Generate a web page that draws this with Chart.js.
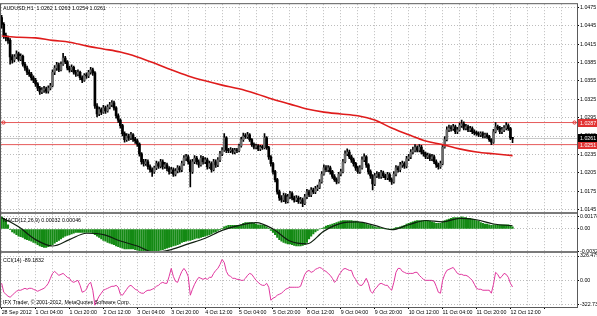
<!DOCTYPE html>
<html>
<head>
<meta charset="utf-8">
<script src="https://cdn.jsdelivr.net/npm/chart.js@4.4.1/dist/chart.umd.min.js"></script>
<style>
  html, body { margin: 0; padding: 0; background: #fff; }
  #wrap { width: 597px; height: 316px; }
</style>
</head>
<body>
<div id="wrap"><canvas id="chart" width="597" height="316"></canvas></div>
<script>
// AUDUSD H1 candles, 28 Sep 2012 12:00 -> 12 Oct 2012 13:00
const symbol = 'AUDUSD,H1';
const firstOpen = 1.0458;
const closes = [
  1.0447,1.0429,1.0425,1.0421,1.0394,1.0389,1.0394,1.0399,1.0390,1.0395,
  1.0382,1.0376,1.0369,1.0366,1.0360,1.0356,1.0350,1.0343,1.0337,1.0340,
  1.0342,1.0338,1.0343,1.0347,1.0369,1.0376,1.0381,1.0373,1.0382,1.0392,
  1.0386,1.0376,1.0373,1.0377,1.0369,1.0366,1.0369,1.0360,1.0356,1.0364,
  1.0363,1.0369,1.0373,1.0368,1.0314,1.0301,1.0308,1.0304,1.0311,1.0306,
  1.0312,1.0316,1.0319,1.0311,1.0298,1.0291,1.0282,1.0269,1.0259,1.0265,
  1.0262,1.0267,1.0260,1.0257,1.0252,1.0236,1.0223,1.0220,1.0223,1.0215,
  1.0210,1.0207,1.0213,1.0220,1.0216,1.0223,1.0215,1.0218,1.0212,1.0207,
  1.0210,1.0203,1.0208,1.0213,1.0210,1.0220,1.0229,1.0231,1.0223,1.0207,
  1.0223,1.0229,1.0223,1.0218,1.0229,1.0223,1.0226,1.0215,1.0220,1.0210,
  1.0223,1.0218,1.0226,1.0236,1.0242,1.0262,1.0242,1.0241,1.0242,1.0239,
  1.0242,1.0241,1.0249,1.0259,1.0265,1.0264,1.0267,1.0259,1.0251,1.0247,
  1.0249,1.0244,1.0247,1.0246,1.0262,1.0246,1.0231,1.0220,1.0207,1.0194,
  1.0174,1.0164,1.0161,1.0168,1.0158,1.0166,1.0171,1.0164,1.0161,1.0164,
  1.0158,1.0161,1.0155,1.0166,1.0174,1.0169,1.0177,1.0174,1.0179,1.0181,
  1.0190,1.0203,1.0213,1.0210,1.0213,1.0207,1.0199,1.0194,1.0190,1.0203,
  1.0207,1.0223,1.0236,1.0239,1.0231,1.0226,1.0220,1.0213,1.0207,1.0213,
  1.0226,1.0231,1.0218,1.0207,1.0200,1.0187,1.0200,1.0203,1.0199,1.0205,
  1.0200,1.0197,1.0202,1.0194,1.0190,1.0203,1.0213,1.0210,1.0218,1.0220,
  1.0216,1.0228,1.0231,1.0239,1.0242,1.0246,1.0242,1.0247,1.0239,1.0236,
  1.0231,1.0233,1.0228,1.0231,1.0223,1.0218,1.0215,1.0220,1.0247,1.0259,
  1.0275,1.0278,1.0277,1.0280,1.0272,1.0275,1.0282,1.0285,1.0278,1.0280,
  1.0275,1.0277,1.0272,1.0270,1.0269,1.0267,1.0269,1.0265,1.0267,1.0264,
  1.0259,1.0255,1.0272,1.0280,1.0278,1.0272,1.0275,1.0278,1.0282,1.0277,
  1.0262,1.0261
];
const highs = [
  1.0462,1.0450,1.0433,1.0428,1.0424,1.0398,1.0398,1.0404,1.0402,1.0399,
  1.0397,1.0385,1.0379,1.0373,1.0369,1.0363,1.0359,1.0352,1.0346,1.0344,
  1.0346,1.0345,1.0347,1.0351,1.0373,1.0380,1.0385,1.0384,1.0386,1.0400,
  1.0395,1.0388,1.0379,1.0381,1.0379,1.0372,1.0373,1.0371,1.0363,1.0367,
  1.0368,1.0372,1.0377,1.0376,1.0370,1.0318,1.0312,1.0311,1.0315,1.0314,
  1.0316,1.0320,1.0323,1.0322,1.0313,1.0301,1.0293,1.0284,1.0272,1.0269,
  1.0268,1.0271,1.0269,1.0263,1.0260,1.0254,1.0238,1.0227,1.0227,1.0226,
  1.0218,1.0213,1.0216,1.0224,1.0223,1.0227,1.0226,1.0222,1.0221,1.0215,
  1.0214,1.0213,1.0212,1.0217,1.0216,1.0224,1.0233,1.0235,1.0234,1.0226,
  1.0227,1.0233,1.0232,1.0226,1.0233,1.0232,1.0230,1.0229,1.0224,1.0223,
  1.0227,1.0226,1.0230,1.0240,1.0246,1.0269,1.0264,1.0245,1.0246,1.0245,
  1.0245,1.0245,1.0252,1.0263,1.0270,1.0269,1.0271,1.0269,1.0261,1.0254,
  1.0252,1.0251,1.0250,1.0250,1.0269,1.0264,1.0248,1.0233,1.0222,1.0209,
  1.0196,1.0177,1.0168,1.0172,1.0171,1.0170,1.0175,1.0174,1.0167,1.0168,
  1.0167,1.0165,1.0164,1.0170,1.0178,1.0177,1.0181,1.0180,1.0183,1.0185,
  1.0194,1.0207,1.0218,1.0217,1.0217,1.0216,1.0209,1.0202,1.0197,1.0206,
  1.0211,1.0227,1.0241,1.0244,1.0242,1.0234,1.0229,1.0222,1.0216,1.0217,
  1.0231,1.0236,1.0233,1.0220,1.0210,1.0202,1.0204,1.0207,1.0206,1.0209,
  1.0208,1.0203,1.0206,1.0205,1.0197,1.0207,1.0217,1.0216,1.0222,1.0224,
  1.0223,1.0232,1.0235,1.0243,1.0247,1.0251,1.0249,1.0251,1.0250,1.0242,
  1.0239,1.0237,1.0236,1.0235,1.0234,1.0226,1.0221,1.0224,1.0251,1.0264,
  1.0280,1.0283,1.0282,1.0284,1.0283,1.0279,1.0286,1.0291,1.0288,1.0284,
  1.0283,1.0281,1.0280,1.0275,1.0273,1.0272,1.0272,1.0272,1.0270,1.0270,
  1.0266,1.0261,1.0276,1.0287,1.0283,1.0281,1.0279,1.0282,1.0287,1.0285,
  1.0279,1.0263
];
const lows = [
  1.0441,1.0424,1.0420,1.0416,1.0382,1.0384,1.0386,1.0391,1.0387,1.0388,
  1.0379,1.0372,1.0365,1.0362,1.0356,1.0352,1.0346,1.0339,1.0333,1.0334,
  1.0336,1.0335,1.0335,1.0340,1.0345,1.0365,1.0372,1.0370,1.0371,1.0380,
  1.0383,1.0373,1.0369,1.0370,1.0366,1.0362,1.0363,1.0357,1.0352,1.0354,
  1.0359,1.0360,1.0366,1.0364,1.0310,1.0296,1.0298,1.0300,1.0302,1.0302,
  1.0304,1.0309,1.0313,1.0307,1.0294,1.0287,1.0278,1.0265,1.0255,1.0256,
  1.0258,1.0259,1.0256,1.0253,1.0248,1.0232,1.0219,1.0216,1.0217,1.0211,
  1.0206,1.0199,1.0204,1.0210,1.0212,1.0213,1.0211,1.0212,1.0208,1.0203,
  1.0204,1.0199,1.0200,1.0205,1.0206,1.0207,1.0217,1.0225,1.0219,1.0182,
  1.0204,1.0220,1.0219,1.0214,1.0216,1.0219,1.0220,1.0211,1.0212,1.0206,
  1.0208,1.0214,1.0215,1.0223,1.0233,1.0240,1.0238,1.0238,1.0238,1.0236,
  1.0236,1.0238,1.0239,1.0247,1.0256,1.0261,1.0261,1.0256,1.0248,1.0244,
  1.0244,1.0241,1.0241,1.0243,1.0244,1.0243,1.0227,1.0216,1.0203,1.0190,
  1.0170,1.0160,1.0157,1.0158,1.0155,1.0156,1.0163,1.0161,1.0157,1.0158,
  1.0155,1.0155,1.0150,1.0153,1.0163,1.0166,1.0166,1.0171,1.0171,1.0176,
  1.0179,1.0188,1.0201,1.0207,1.0207,1.0203,1.0196,1.0191,1.0187,1.0188,
  1.0200,1.0205,1.0221,1.0233,1.0228,1.0222,1.0216,1.0209,1.0204,1.0204,
  1.0211,1.0223,1.0214,1.0203,1.0196,1.0177,1.0184,1.0197,1.0196,1.0196,
  1.0197,1.0194,1.0194,1.0191,1.0186,1.0188,1.0200,1.0206,1.0207,1.0214,
  1.0212,1.0213,1.0225,1.0228,1.0236,1.0239,1.0239,1.0239,1.0236,1.0232,
  1.0228,1.0228,1.0225,1.0225,1.0220,1.0214,1.0211,1.0212,1.0218,1.0245,
  1.0257,1.0272,1.0273,1.0274,1.0269,1.0269,1.0273,1.0279,1.0275,1.0275,
  1.0272,1.0272,1.0269,1.0267,1.0266,1.0264,1.0264,1.0262,1.0262,1.0261,
  1.0256,1.0251,1.0253,1.0270,1.0275,1.0269,1.0269,1.0272,1.0275,1.0274,
  1.0259,1.0254
];

// moving average, read every 8 bars
const maBars = [0,8,16,24,32,40,48,56,64,72,80,88,96,104,112,120,128,136,144,152,160,168,176,184,192,200,208,216,224,232,241];
const maValues = [1.0428,1.0426,1.0425,1.0421,1.0418,1.0412,1.0407,1.0402,1.0394,1.0384,1.0373,1.0363,1.0355,1.0348,1.0342,1.0334,1.0325,1.0317,1.0309,1.0304,1.0301,1.0298,1.0291,1.0278,1.0267,1.0257,1.0251,1.0244,1.0239,1.0236,1.0233];

const levelLines = [1.0287, 1.0251];

const macdHist = [
  0.0017,0.0015,0.0012,0.0006,-0.0001,-0.0004,-0.0006,-0.0008,-0.0010,-0.0011,
  -0.0012,-0.0014,-0.0015,-0.0016,-0.0017,-0.0019,-0.0020,-0.0022,-0.0024,-0.0025,
  -0.0026,-0.0026,-0.0025,-0.0024,-0.0022,-0.0020,-0.0018,-0.0016,-0.0014,-0.0012,
  -0.0010,-0.0009,-0.0008,-0.0007,-0.0006,-0.0005,-0.0005,-0.0005,-0.0005,-0.0005,
  -0.0005,-0.0005,-0.0005,-0.0006,-0.0008,-0.0010,-0.0012,-0.0014,-0.0016,-0.0017,
  -0.0019,-0.0020,-0.0021,-0.0022,-0.0024,-0.0025,-0.0026,-0.0027,-0.0028,-0.0028,
  -0.0028,-0.0028,-0.0028,-0.0029,-0.0030,-0.0031,-0.0032,-0.0033,-0.0033,-0.0033,
  -0.0033,-0.0033,-0.0033,-0.0032,-0.0031,-0.0030,-0.0029,-0.0028,-0.0027,-0.0026,
  -0.0025,-0.0024,-0.0023,-0.0022,-0.0021,-0.0019,-0.0018,-0.0017,-0.0016,-0.0016,
  -0.0015,-0.0014,-0.0013,-0.0013,-0.0012,-0.0011,-0.0010,-0.0009,-0.0008,-0.0007,
  -0.0005,-0.0004,-0.0002,-0.0001,0.0001,0.0003,0.0004,0.0005,0.0005,0.0005,
  0.0005,0.0005,0.0005,0.0006,0.0008,0.0009,0.0009,0.0009,0.0009,0.0008,
  0.0007,0.0006,0.0006,0.0005,0.0005,0.0003,0.0001,-0.0002,-0.0005,-0.0008,
  -0.0012,-0.0015,-0.0017,-0.0019,-0.0020,-0.0021,-0.0021,-0.0022,-0.0023,-0.0024,
  -0.0024,-0.0024,-0.0023,-0.0022,-0.0019,-0.0014,-0.0010,-0.0007,-0.0004,-0.0002,
  0.0000,0.0001,0.0002,0.0004,0.0005,0.0006,0.0007,0.0008,0.0009,0.0010,
  0.0011,0.0012,0.0012,0.0012,0.0012,0.0012,0.0011,0.0011,0.0010,0.0009,
  0.0009,0.0008,0.0007,0.0006,0.0005,0.0004,0.0003,0.0002,0.0002,0.0001,
  0.0001,0.0000,0.0000,0.0000,0.0000,0.0001,0.0002,0.0002,0.0003,0.0004,
  0.0005,0.0007,0.0008,0.0009,0.0010,0.0011,0.0012,0.0012,0.0012,0.0012,
  0.0012,0.0012,0.0011,0.0010,0.0009,0.0008,0.0008,0.0008,0.0010,0.0012,
  0.0013,0.0014,0.0015,0.0016,0.0016,0.0016,0.0016,0.0017,0.0016,0.0016,
  0.0015,0.0015,0.0014,0.0013,0.0012,0.0011,0.0009,0.0008,0.0007,0.0007,
  0.0006,0.0005,0.0006,0.0006,0.0006,0.0006,0.0006,0.0006,0.0006,0.0006,
  0.0005,0.00032
];
const signalBars = maBars;
const signalValues = [0.0016,0.0003,-0.0015,-0.0024,-0.0015,-0.0006,-0.0008,-0.0017,-0.0024,-0.0033,-0.0029,-0.0021,-0.0013,-0.0002,0.0005,0.0009,0.0000,-0.0017,-0.0021,-0.0003,0.0008,0.0010,0.0005,-0.0001,0.0006,0.0012,0.0010,0.0015,0.0013,0.0007,0.00046];

const cciValues = [
  -40,-160,-187,-213,-227,-200,-173,-147,-133,-133,
  -120,-107,-120,-107,-107,-120,-133,-147,-133,-120,
  -107,-80,-40,27,93,120,93,67,80,93,
  67,40,27,-13,-27,-13,0,-67,-160,-147,
  -120,-53,-27,-133,-333,-267,-213,-173,-133,-120,
  -107,-93,-80,-80,-67,-93,-187,-200,-160,-120,
  -80,-67,-93,-120,-133,-160,-173,-173,-147,-133,
  -133,-120,-107,-80,-67,-40,-27,-40,-40,53,
  160,53,-13,-27,53,120,160,120,53,-200,
  -120,-53,0,40,27,13,27,13,40,40,
  93,133,160,213,280,240,120,67,53,27,
  27,13,13,0,0,27,67,93,80,40,
  0,-27,-53,-67,-67,-40,-93,-267,-240,-227,
  -200,-187,-173,-147,-120,-107,-93,-93,-93,-93,
  -93,-80,0,80,120,133,107,120,147,160,
  173,160,133,120,93,67,27,-27,0,67,
  107,147,160,147,133,133,53,13,-40,-67,
  -67,-27,27,-40,-147,-173,-120,-93,-53,-40,
  -53,-67,-67,-107,-133,-27,107,160,160,120,
  107,93,93,93,93,107,107,67,40,13,
  0,0,0,0,-13,-80,-160,-173,0,80,
  133,147,160,173,133,93,80,80,67,67,
  53,27,0,-53,-107,-120,-120,-133,-133,-133,
  -133,-173,-53,107,80,27,53,93,80,40,
  -40,-89.1832
];

const priceTicks = [1.0475,1.0445,1.0415,1.0385,1.0355,1.0325,1.0295,1.0265,1.0235,1.0205,1.0175,1.0145];
const macdTicks = [0.00178, 0, -0.00322];
const cciTicks = [326.479, 100, 0, -100, -322.735];
const timeLabels = ['28 Sep 2012','1 Oct 04:00','1 Oct 20:00','2 Oct 12:00','3 Oct 04:00','3 Oct 20:00','4 Oct 12:00','5 Oct 04:00','5 Oct 20:00','8 Oct 12:00','9 Oct 04:00','9 Oct 20:00','10 Oct 12:00','11 Oct 04:00','11 Oct 20:00','12 Oct 12:00'];
const copyright = 'IFX Trader, \u00a9 2001-2012, MetaQuotes Software Corp.';

const xMin = -0.3, xMax = 271.4;
const FONT = '"Liberation Sans", Arial, sans-serif';
const FS = 5.3;
const gridColor = '#bcbcbc';

const opens = closes.map((c, i) => i === 0 ? firstOpen : closes[i - 1]);
const last = closes.length - 1;

Chart.defaults.font.family = FONT;
Chart.defaults.font.size = FS;
Chart.defaults.color = '#000';

const overlay = {
  id: 'overlay',
  afterDraw(chart) {
    const { ctx, chartArea: a, scales } = chart;
    ctx.save();

    // pane separators and frame
    ctx.fillStyle = '#7a7a7a';
    [scales.yMacd.top, scales.yCci.top].forEach(t => {
      ctx.fillRect(a.left - 1, Math.round(t) - 1, a.right - a.left + 1, 2);
    });
    ctx.strokeStyle = '#5a5a5a';
    ctx.lineWidth = 1;
    ctx.strokeRect(a.left - 0.5, a.top - 0.5, a.right - a.left + 1, a.bottom - a.top + 1);

    ctx.font = FS + 'px ' + FONT;
    ctx.textBaseline = 'middle';
    ctx.textAlign = 'left';

    // price boxes on the right axis
    const box = (v, color) => {
      const y = Math.round(scales.y.getPixelForValue(v));
      ctx.fillStyle = color;
      ctx.fillRect(a.right + 1, y - 4, 20, 8);
      ctx.fillStyle = '#fff';
      ctx.fillText(v.toFixed(4), a.right + 3, y + 0.5);
    };
    levelLines.forEach(v => box(v, '#e23232'));
    box(closes[last], '#000');

    // handles on the selected line
    const yl = scales.y.getPixelForValue(levelLines[0]);
    ctx.strokeStyle = '#e23232';
    ctx.beginPath(); ctx.arc(a.left + 2.5, yl, 1.6, 0, Math.PI * 2); ctx.stroke();
    ctx.beginPath(); ctx.arc(a.right - 2.5, yl, 1.6, 0, Math.PI * 2); ctx.stroke();

    // window titles
    ctx.fillStyle = '#000';
    const ohlc = [opens[last], highs[last], lows[last], closes[last]].map(v => v.toFixed(4)).join(' ');
    ctx.fillText(symbol + '  ' + ohlc, 3, a.top + 4);
    ctx.fillText('MACD(12,26,9) ' + macdHist[last].toFixed(5) + ' ' + signalValues[signalValues.length - 1].toFixed(5), 3, scales.yMacd.top + 7.5);
    ctx.fillText('CCI(14) ' + cciValues[last].toFixed(4), 3, scales.yCci.top + 8.5);
    ctx.fillText(copyright, 3, a.bottom - 4);
    ctx.restore();
  }
};

const yAxis = (extra) => Object.assign({
  type: 'linear',
  position: 'right',
  stack: 'panes',
  border: { display: false, dash: [1, 2] },
  grid: { color: gridColor, tickLength: 2, tickColor: '#000' },
  ticks: { padding: 1, font: { size: FS, family: FONT }, color: '#000' },
  afterFit: s => { s.width = 20; }
}, extra);

new Chart(document.getElementById('chart'), {
  type: 'bar',
  data: {
    datasets: [
      {
        type: 'line', label: 'MA', yAxisID: 'y', order: 0,
        data: maBars.map((b, k) => ({ x: b, y: maValues[k] })),
        borderColor: '#df1c1c', borderWidth: 1.6, pointRadius: 0,
        cubicInterpolationMode: 'monotone'
      },
      {
        label: 'body', yAxisID: 'y', order: 1, grouped: false,
        data: closes.map((c, i) => ({ x: i, y: [opens[i], c] })),
        backgroundColor: closes.map((c, i) => c >= opens[i] ? '#6a6a6a' : '#000'),
        barThickness: 2, minBarLength: 1
      },
      {
        label: 'wick', yAxisID: 'y', order: 2, grouped: false,
        data: closes.map((c, i) => ({ x: i, y: [lows[i], highs[i]] })),
        backgroundColor: '#000', barThickness: 1
      },
      ...levelLines.map((v, k) => ({
        type: 'line', label: 'level' + k, yAxisID: 'y', order: 3,
        data: [{ x: xMin, y: v }, { x: xMax, y: v }],
        borderColor: '#e65a5a', borderWidth: 1, pointRadius: 0
      })),
      {
        type: 'line', label: 'bid', yAxisID: 'y', order: 4,
        data: [{ x: xMin, y: closes[last] }, { x: xMax, y: closes[last] }],
        borderColor: '#c8c8c8', borderWidth: 1, pointRadius: 0
      },
      {
        type: 'line', label: 'signal', yAxisID: 'yMacd', order: 0,
        data: signalBars.map((b, k) => ({ x: b, y: signalValues[k] })),
        borderColor: '#0f1f0f', borderWidth: 1.2, pointRadius: 0,
        cubicInterpolationMode: 'monotone'
      },
      {
        label: 'MACD', yAxisID: 'yMacd', order: 1, grouped: false,
        data: macdHist.map((v, i) => ({ x: i, y: v })),
        backgroundColor: '#148a14', barThickness: 1.5
      },
      {
        type: 'line', label: 'CCI', yAxisID: 'yCci', order: 0,
        data: cciValues.map((v, i) => ({ x: i, y: v })),
        borderColor: '#e0379e', borderWidth: 1, pointRadius: 0, tension: 0
      }
    ]
  },
  options: {
    responsive: false,
    devicePixelRatio: 1,
    animation: false,
    events: [],
    layout: { padding: { top: 2, left: 1, right: 0, bottom: 0 } },
    plugins: { legend: { display: false }, tooltip: { enabled: false } },
    scales: {
      x: {
        type: 'linear', position: 'bottom', min: xMin, max: xMax, offset: false,
        border: { display: false, dash: [1, 2] },
        grid: {
          offset: false, color: gridColor, tickLength: 2,
          tickColor: c => (c.tick && Math.round(c.tick.value) % 16 === 0) ? '#000' : 'rgba(0,0,0,0)'
        },
        afterBuildTicks: s => {
          const t = [];
          for (let b = 0; b <= xMax; b += 8) t.push({ value: b });
          s.ticks = t;
        },
        ticks: {
          autoSkip: false, maxRotation: 0, align: 'start', padding: 0,
          font: { size: FS, family: FONT }, color: '#000',
          callback: v => (v % 16 === 0 && timeLabels[v / 16]) ? timeLabels[v / 16] : ''
        },
        afterFit: s => { s.height = 9; }
      },
      y: yAxis({
        stackWeight: 210, min: 1.0140, max: 1.0480,
        afterBuildTicks: s => { s.ticks = priceTicks.map(v => ({ value: v })); },
        ticks: { padding: 1, color: '#000', font: { size: FS, family: FONT }, callback: v => v.toFixed(4) }
      }),
      yMacd: yAxis({
        stackWeight: 40, min: -0.0033, max: 0.0023,
        afterBuildTicks: s => { s.ticks = macdTicks.map(v => ({ value: v })); },
        ticks: { padding: 1, color: '#000', font: { size: FS, family: FONT }, callback: v => v === 0 ? '0.00' : v.toFixed(5) }
      }),
      yCci: yAxis({
        stackWeight: 55, min: -358, max: 375,
        afterBuildTicks: s => { s.ticks = cciTicks.map(v => ({ value: v })); },
        ticks: { padding: 1, color: '#000', font: { size: FS, family: FONT }, callback: v => v === 0 ? '0.00' : (Number.isInteger(v) ? String(v) : v.toFixed(3)) }
      })
    }
  },
  plugins: [overlay]
});
</script>
</body>
</html>
